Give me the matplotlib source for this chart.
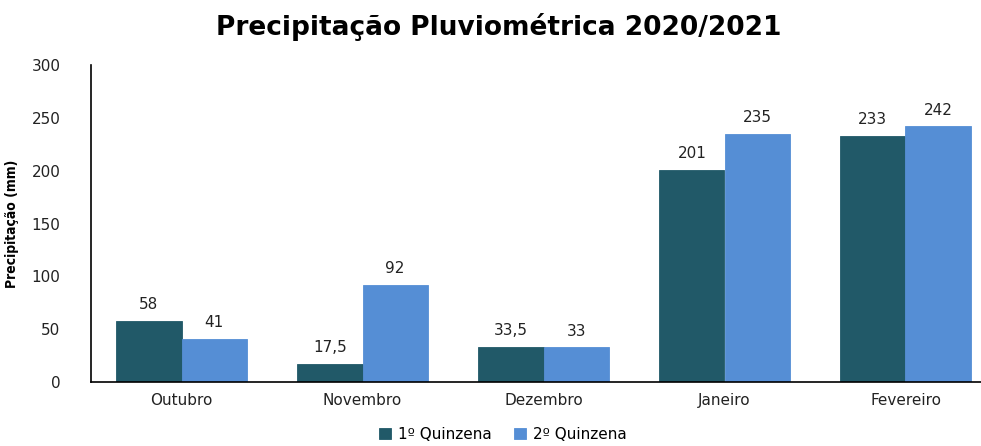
import matplotlib.pyplot as plt
import numpy as np

meses = ['Outubro', 'Novembro', 'Dezembro', 'Janeiro', 'Fevereiro']
quinzena1 = [58, 17.5, 33.5, 201, 233]
quinzena2 = [41, 92, 33, 235, 242]
series_labels = ['1º Quinzena', '2º Quinzena']
cores = ['#215968', '#558ED5']


def fmt(v):
    # decimal comma like the original
    s = ('%g' % v)
    return s.replace('.', ',')


fig = plt.figure(figsize=(9.81, 4.46), dpi=100)
# axes runs a little past the right edge, like the original image crop
ax = fig.add_axes([91 / 981, 1 - 382 / 446, (996 - 91) / 981, (382 - 65) / 446])

pos = np.arange(len(meses))
width = 0.36

for i, (vals, cor, lab) in enumerate(zip([quinzena1, quinzena2], cores, series_labels)):
    x = pos + (i - 0.5) * width
    bars = ax.bar(x, vals, width, color=cor, edgecolor=cor, linewidth=0.6, label=lab)
    for b, v in zip(bars, vals):
        ax.text(b.get_x() + b.get_width() / 2, v + 8, fmt(v),
                ha='center', va='bottom', fontsize=11, color='#222222')

ax.set_xlim(-0.5, len(meses) - 0.5)
ax.set_ylim(0, 300)
ax.set_yticks(range(0, 301, 50))
ax.set_xticks(pos)
ax.set_xticklabels(meses)
ax.tick_params(axis='both', length=0, labelsize=11, colors='#222222')
ax.tick_params(axis='y', pad=22)
ax.tick_params(axis='x', pad=8)
for s in ['top', 'right']:
    ax.spines[s].set_visible(False)
ax.spines['left'].set_linewidth(1.2)
ax.spines['bottom'].set_linewidth(1.2)

ax.set_ylabel('Precipitação (mm)', fontsize=10, fontweight='bold', fontstretch='condensed')
ax.yaxis.set_label_coords(-0.08, 0.5)

fig.text(0.508, 0.94, 'Precipitação Pluviométrica 2020/2021', ha='center', va='center',
         fontsize=19, fontweight='bold', family='DejaVu Sans')

ax.legend(loc='center', bbox_to_anchor=(0.455, -0.165), ncol=2, frameon=False,
          fontsize=11, handlelength=0.8, handleheight=0.8, columnspacing=1.5,
          handletextpad=0.4)

fig.savefig('out.png', dpi=100)
